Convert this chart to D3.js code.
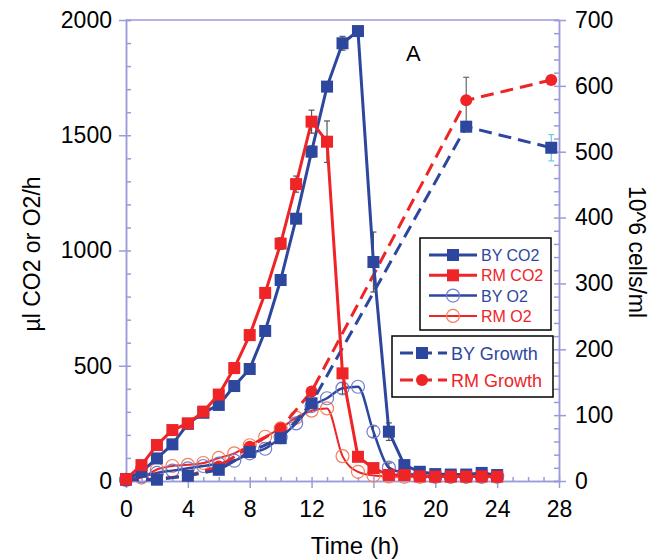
<!DOCTYPE html>
<html>
<head>
<meta charset="utf-8">
<script src="https://cdn.jsdelivr.net/npm/d3@7"></script>
<style>
  body { margin: 0; background: #fff; }
  svg { display: block; font-family: "Liberation Sans", Arial, sans-serif; }
</style>
</head>
<body>
<svg id="chart" width="657" height="560"></svg>
<script>
// hours sampled for the respiration curves
const hours = [0, 1, 2, 3, 4, 5, 6, 7, 8, 9, 10, 11, 12, 13, 14, 15, 16, 17, 18, 19, 20, 21, 22, 23, 24];

// µl CO2 or O2 per hour (left axis)
const byCO2 = [8, 40, 98, 159, 248, 296, 330, 412, 486, 651, 872, 1138, 1429, 1711, 1899, 1952, 950, 214, 69, 40, 30, 28, 28, 35, 26];
const rmCO2 = [8, 69, 156, 221, 250, 301, 375, 490, 633, 816, 1030, 1288, 1559, 1472, 467, 105, 56, 26, 26, 20, 19, 19, 19, 20, 19];
const byO2 = [5, 20, 35, 45, 55, 65, 75, 88, 120, 140, 190, 250, 325, 359, 402, 409, 214, 58, 35, 25, 20, 20, 20, 20, 20];
const rmO2 = [5, 15, 50, 65, 70, 78, 100, 120, 155, 192, 228, 275, 305, 315, 108, 40, 24, 20, 18, 18, 18, 18, 18, 18, 18];

// error bars (same index as hours, 0 = none)
const byCO2Err = [0, 0, 0, 0, 0, 0, 0, 0, 0, 15, 20, 20, 25, 20, 30, 10, 130, 38, 0, 0, 0, 0, 0, 0, 0];
const rmCO2Err = [0, 0, 0, 0, 0, 0, 0, 0, 0, 20, 25, 35, 50, 90, 0, 0, 0, 0, 0, 0, 0, 0, 0, 0, 0];
const byO2Err = [0, 0, 0, 0, 0, 0, 0, 0, 0, 0, 0, 0, 0, 0, 25, 0, 25, 20, 0, 0, 0, 0, 0, 0, 0];

// growth, 10^6 cells/ml (right axis)
const growthHours = [0, 2, 4, 6, 8, 10, 12, 22, 27.5];
const byGrowth = [2, 2, 8, 17, 44, 65, 118, 538, 506];
const rmGrowth = [2, 3, 8, 22, 52, 80, 136, 578, 609];
const byGrowthErr = [0, 0, 0, 0, 0, 0, 0, 8, 20];
const rmGrowthErr = [0, 0, 0, 0, 0, 0, 0, 35, 6];

// tick labels
const xTicks = [0, 4, 8, 12, 16, 20, 24, 28];
const leftTicks = [0, 500, 1000, 1500, 2000];
const rightTicks = [0, 100, 200, 300, 400, 500, 600, 700];

const BLUE = '#2d479e';
const RED = '#ee2427';
const BLUE_O2 = '#6f7fcf';
const RED_O2 = '#f2805e';
const AXIS = '#9b9bd9';
const FONT = '"Liberation Sans", Arial, sans-serif';

const svg = d3.select('#chart');
const plotLeft = 126, plotRight = 559, plotTop = 20, plotBottom = 481;

const x = d3.scaleLinear().domain([0, 28]).range([plotLeft, plotRight]);
const yL = d3.scaleLinear().domain([0, 2000]).range([plotBottom, plotTop]);
const yR = d3.scaleLinear().domain([0, 700]).range([plotBottom, plotTop]);

function styleAxis(g) {
    g.selectAll('path, line').attr('stroke', AXIS).attr('stroke-width', 1.5);
    g.selectAll('text').attr('fill', '#000').style('font-size', '23px').style('font-family', FONT);
}

function drawAxes() {
    // minor ticks (inward)
    svg.append('g').attr('transform', `translate(0,${plotBottom})`)
        .call(d3.axisBottom(x).tickValues(hours.concat([25, 26, 27])).tickSize(-4).tickFormat(''))
        .call(styleAxis);
    svg.append('g').attr('transform', `translate(${plotLeft},0)`)
        .call(d3.axisLeft(yL).ticks(20).tickSize(-5).tickFormat(''))
        .call(styleAxis);
    svg.append('g').attr('transform', `translate(${plotRight},0)`)
        .call(d3.axisRight(yR).ticks(35).tickSize(-5).tickFormat(''))
        .call(styleAxis);

    // major ticks (outward)
    svg.append('g').attr('transform', `translate(0,${plotBottom})`)
        .call(d3.axisBottom(x).tickValues(xTicks).tickSize(7).tickPadding(13).tickSizeOuter(0))
        .call(styleAxis);
    svg.append('g').attr('transform', `translate(${plotLeft},0)`)
        .call(d3.axisLeft(yL).tickValues(leftTicks).tickFormat(d3.format('d'))
            .tickSize(7).tickPadding(7).tickSizeOuter(0))
        .call(styleAxis);
    svg.append('g').attr('transform', `translate(${plotRight},0)`)
        .call(d3.axisRight(yR).tickValues(rightTicks).tickSize(7).tickPadding(9).tickSizeOuter(0))
        .call(styleAxis);

    // top frame line
    svg.append('line').attr('x1', plotLeft).attr('x2', plotRight).attr('y1', plotTop).attr('y2', plotTop)
        .attr('stroke', AXIS).attr('stroke-width', 1.5);
}

function drawErrors(xs, ys, errs, yScale, color) {
    const g = svg.append('g').attr('stroke', color).attr('stroke-width', 1.2);
    xs.forEach((t, i) => {
        if (!errs[i]) return;
        const cx = x(t), y1 = yScale(ys[i] + errs[i]), y2 = yScale(ys[i] - errs[i]);
        g.append('line').attr('x1', cx).attr('x2', cx).attr('y1', y1).attr('y2', y2);
        g.append('line').attr('x1', cx - 3).attr('x2', cx + 3).attr('y1', y1).attr('y2', y1);
        g.append('line').attr('x1', cx - 3).attr('x2', cx + 3).attr('y1', y2).attr('y2', y2);
    });
}

function drawSeries(xs, ys, yScale, opts) {
    const line = d3.line().x((d, i) => x(xs[i])).y((d) => yScale(d)).curve(opts.curve || d3.curveLinear);
    svg.append('path').datum(ys).attr('d', line).attr('fill', 'none')
        .attr('stroke', opts.color).attr('stroke-width', opts.width)
        .attr('stroke-dasharray', opts.dash || null);
    const g = svg.append('g');
    ys.forEach((v, i) => drawMarker(g, x(xs[i]), yScale(v), opts));
}

function drawMarker(g, cx, cy, opts) {
    if (opts.marker === 'square') {
        g.append('rect').attr('x', cx - 6).attr('y', cy - 6).attr('width', 12).attr('height', 12)
            .attr('fill', opts.color);
    } else if (opts.marker === 'dot') {
        g.append('circle').attr('cx', cx).attr('cy', cy).attr('r', 6).attr('fill', opts.color);
    } else {
        g.append('circle').attr('cx', cx).attr('cy', cy).attr('r', 6.5).attr('fill', 'none')
            .attr('stroke', opts.markerColor).attr('stroke-width', 1.2);
    }
}

function drawLegends() {
    const box1 = svg.append('g');
    box1.append('rect').attr('x', 420).attr('y', 238).attr('width', 131).attr('height', 92)
        .attr('fill', '#fff').attr('stroke', '#000').attr('stroke-width', 1.5);
    const items1 = [
        { label: 'BY CO2', color: BLUE, marker: 'square', width: 3 },
        { label: 'RM CO2', color: RED, marker: 'square', width: 3 },
        { label: 'BY O2', color: BLUE, marker: 'open', markerColor: BLUE_O2, width: 2.5 },
        { label: 'RM O2', color: RED, marker: 'open', markerColor: RED_O2, width: 2 }
    ];
    items1.forEach((it, i) => {
        const y = 255 + i * 20.3;
        box1.append('line').attr('x1', 429).attr('x2', 477).attr('y1', y).attr('y2', y)
            .attr('stroke', it.color).attr('stroke-width', it.width);
        drawMarker(box1, 453, y, it);
        box1.append('text').attr('x', 481).attr('y', y + 6).text(it.label)
            .attr('fill', it.color).style('font-size', '16px').style('font-family', FONT);
    });

    const box2 = svg.append('g');
    box2.append('rect').attr('x', 392).attr('y', 336).attr('width', 161).attr('height', 61)
        .attr('fill', '#fff').attr('stroke', '#000').attr('stroke-width', 1.5);
    const items2 = [
        { label: 'BY Growth', color: BLUE, marker: 'square' },
        { label: 'RM Growth', color: RED, marker: 'dot' }
    ];
    items2.forEach((it, i) => {
        const y = 353 + i * 27;
        box2.append('line').attr('x1', 400).attr('x2', 447).attr('y1', y).attr('y2', y)
            .attr('stroke', it.color).attr('stroke-width', 3).attr('stroke-dasharray', '13,6');
        drawMarker(box2, 422, y, it);
        box2.append('text').attr('x', 451).attr('y', y + 6.5).text(it.label)
            .attr('fill', it.color).style('font-size', '18px').style('font-family', FONT);
    });
}

function drawTitles() {
    svg.append('text').attr('x', 355).attr('y', 554).attr('text-anchor', 'middle')
        .style('font-size', '24px').text('Time (h)');
    svg.append('text').attr('transform', 'translate(40,254) rotate(-90)').attr('text-anchor', 'middle')
        .style('font-size', '23px').text('µl CO2 or O2/h');
    svg.append('text').attr('transform', 'translate(629,252) rotate(90)').attr('text-anchor', 'middle')
        .style('font-size', '23px').text('10^6 cells/ml');
    svg.append('text').attr('x', 406).attr('y', 61).style('font-size', '22px').text('A');
}

drawAxes();

// O2 curves
drawSeries(hours, rmO2, yL, { color: RED, width: 2, marker: 'open', markerColor: RED_O2, curve: d3.curveMonotoneX });
drawErrors(hours, byO2, byO2Err, yL, '#555');
drawSeries(hours, byO2, yL, { color: BLUE, width: 2.5, marker: 'open', markerColor: BLUE_O2, curve: d3.curveMonotoneX });

// growth
drawErrors(growthHours, rmGrowth, rmGrowthErr, yR, '#666');
drawSeries(growthHours, rmGrowth, yR, { color: RED, width: 3, marker: 'dot', dash: '13,7' });
drawErrors(growthHours, byGrowth, byGrowthErr, yR, '#6cc8e8');
drawSeries(growthHours, byGrowth, yR, { color: BLUE, width: 3, marker: 'square', dash: '13,7' });

// CO2 curves
drawErrors(hours, byCO2, byCO2Err, yL, '#555');
drawSeries(hours, byCO2, yL, { color: BLUE, width: 3, marker: 'square' });
drawErrors(hours, rmCO2, rmCO2Err, yL, '#555');
drawSeries(hours, rmCO2, yL, { color: RED, width: 3, marker: 'square' });

drawLegends();
drawTitles();
</script>
</body>
</html>
